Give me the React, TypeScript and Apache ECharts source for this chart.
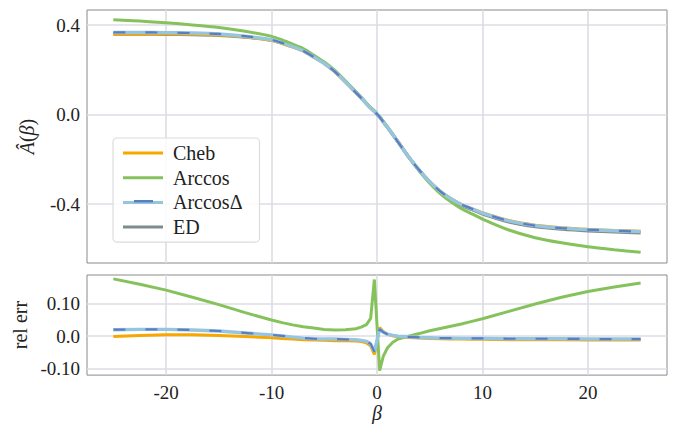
import React, { useEffect, useRef } from "react";
import * as echarts from "echarts";

// beta grid
const BETA = [-25, -22.5, -20, -17.5, -15, -12.5, -10, -9, -8, -7, -6, -5, -4, -3, -2, -1.5, -1, -0.6, -0.25, 0.25, 0.6, 1, 1.5, 2, 3, 4, 5, 6, 7, 8, 9, 10, 12.5, 15, 17.5, 20, 22.5, 25];

// top panel: A-hat(beta)
const ED_TOP = [0.3598, 0.3595, 0.3585, 0.3572, 0.3543, 0.3465, 0.3327, 0.3197, 0.3039, 0.2867, 0.2591, 0.2301, 0.1937, 0.1475, 0.0991, 0.075, 0.0488, 0.0297, 0.0147, -0.0108, -0.0326, -0.0577, -0.0898, -0.123, -0.1894, -0.249, -0.3015, -0.3451, -0.3783, -0.4048, -0.424, -0.4431, -0.4788, -0.5, -0.5111, -0.5187, -0.5237, -0.5278];
const CHEB_TOP = [0.3594, 0.3602, 0.3599, 0.3586, 0.355, 0.3462, 0.331, 0.3175, 0.3012, 0.2835, 0.256, 0.2271, 0.191, 0.1454, 0.0976, 0.0737, 0.0478, 0.0288, 0.0139, -0.0111, -0.0331, -0.058, -0.0899, -0.1228, -0.1886, -0.2475, -0.2994, -0.3423, -0.3749, -0.4012, -0.4198, -0.4387, -0.4735, -0.4945, -0.5055, -0.5125, -0.5174, -0.5215];
const ARCCOS_TOP = [0.4238, 0.4174, 0.4098, 0.4004, 0.389, 0.3718, 0.3493, 0.3331, 0.3145, 0.295, 0.2656, 0.2349, 0.1974, 0.1505, 0.1014, 0.0771, 0.0506, 0.0313, 0.0173, -0.0096, -0.0306, -0.0556, -0.0881, -0.1219, -0.1894, -0.251, -0.3066, -0.3534, -0.39, -0.4202, -0.4435, -0.467, -0.5157, -0.55, -0.5729, -0.5908, -0.6038, -0.6149];
const ARCCOSD_TOP = [0.367, 0.367, 0.366, 0.364, 0.36, 0.35, 0.334, 0.32, 0.303, 0.285, 0.257, 0.228, 0.192, 0.146, 0.098, 0.074, 0.048, 0.029, 0.014, -0.011, -0.033, -0.058, -0.09, -0.123, -0.189, -0.248, -0.3, -0.343, -0.376, -0.402, -0.421, -0.44, -0.475, -0.496, -0.507, -0.514, -0.519, -0.523];

// bottom panel: relative error
const CHEB_ERR = [-0.001, 0.002, 0.004, 0.004, 0.002, -0.001, -0.005, -0.007, -0.009, -0.011, -0.012, -0.013, -0.014, -0.014, -0.015, -0.017, -0.021, -0.03, -0.057, 0.027, 0.014, 0.006, 0.001, -0.002, -0.004, -0.006, -0.007, -0.008, -0.009, -0.009, -0.01, -0.01, -0.011, -0.011, -0.011, -0.012, -0.012, -0.012];
const ARCCOS_ERR = [0.178, 0.161, 0.143, 0.121, 0.098, 0.073, 0.05, 0.042, 0.035, 0.029, 0.025, 0.021, 0.019, 0.02, 0.023, 0.028, 0.036, 0.055, 0.176, -0.107, -0.062, -0.036, -0.019, -0.009, 0.0, 0.008, 0.017, 0.024, 0.031, 0.038, 0.046, 0.054, 0.077, 0.1, 0.121, 0.139, 0.153, 0.165];
const ARCCOSD_ERR = [0.02, 0.021, 0.021, 0.019, 0.016, 0.01, 0.004, 0.001, -0.003, -0.006, -0.008, -0.009, -0.009, -0.01, -0.011, -0.013, -0.016, -0.024, -0.048, 0.022, 0.012, 0.006, 0.002, 0.0, -0.002, -0.004, -0.005, -0.006, -0.006, -0.007, -0.007, -0.007, -0.008, -0.008, -0.008, -0.009, -0.009, -0.009];

const LEGEND_NAMES = ["Cheb", "Arccos", "ArccosΔ", "ED"];

const C_CHEB = "#f6a700";
const C_ARCCOS = "#86c25c";
const C_DL = "#96c5e0";
const C_DD = "#5a7ec3";
const C_ED = "#7f8c8d";
const FONT = "Liberation Serif";
const TXT = "#222";

const pairs = (ys: number[]) => BETA.map((b, i) => [b, ys[i]]);

export default function App() {
  const ref = useRef<HTMLDivElement>(null);
  useEffect(() => {
    if (!ref.current) return;
    const chart = echarts.init(ref.current, undefined, { renderer: "svg" });
    const splitLine = { show: true, showMinLine: false, showMaxLine: false, lineStyle: { color: "#dcdce4", width: 1.6 } };
    const xBase = {
      type: "value",
      min: -27.5,
      max: 27.5,
      minInterval: 10,
      maxInterval: 10,
      axisLine: { show: false },
      axisTick: { show: false },
      splitLine,
    };
    const line = (name: string, x: number, data: number[], color: string, width: number, extra: any = {}) => ({
      type: "line",
      name,
      xAxisIndex: x,
      yAxisIndex: x,
      data: pairs(data),
      showSymbol: false,
      symbol: "none",
      smooth: x === 0 ? 0.25 : false,
      lineStyle: { color, width, ...extra },
      itemStyle: { color },
      z: 2,
    });
    chart.setOption({
      animation: false,
      backgroundColor: "#fff",
      grid: [
        { left: 87, top: 10, width: 580, height: 253, show: true, borderColor: "#8a8a8a", borderWidth: 1, backgroundColor: "#fff" },
        { left: 87, top: 275, width: 580, height: 101, show: true, borderColor: "#8a8a8a", borderWidth: 1, backgroundColor: "#fff" },
      ],
      xAxis: [
        { ...xBase, gridIndex: 0, axisLabel: { show: false } },
        {
          ...xBase,
          gridIndex: 1,
          axisLabel: { show: true, showMinLabel: false, showMaxLabel: false, margin: 8, fontFamily: FONT, fontSize: 19, color: TXT },
          name: "β",
          nameLocation: "middle",
          nameGap: 26,
          nameTextStyle: { fontFamily: FONT, fontSize: 20, fontStyle: "italic", color: TXT },
        },
      ],
      yAxis: [
        {
          type: "value",
          gridIndex: 0,
          min: -0.663,
          max: 0.467,
          minInterval: 0.4,
          maxInterval: 0.4,
          axisLine: { show: false },
          axisTick: { show: false },
          splitLine,
          axisLabel: { showMinLabel: false, showMaxLabel: false, margin: 7, fontFamily: FONT, fontSize: 19, color: TXT, formatter: (v: number) => v.toFixed(1) },
          name: "{i|Â}({i|β})",
          nameLocation: "middle",
          nameGap: 50,
          nameTextStyle: { fontFamily: FONT, fontSize: 20, color: TXT, rich: { i: { fontFamily: FONT, fontSize: 20, fontStyle: "italic", color: TXT } } },
        },
        {
          type: "value",
          gridIndex: 1,
          min: -0.121,
          max: 0.19,
          minInterval: 0.1,
          maxInterval: 0.1,
          axisLine: { show: false },
          axisTick: { show: false },
          splitLine,
          axisLabel: { showMinLabel: false, showMaxLabel: false, margin: 7, fontFamily: FONT, fontSize: 19, color: TXT, formatter: (v: number) => (Math.abs(v) < 1e-9 ? "0.0" : v.toFixed(2)) },
          name: "rel err",
          nameLocation: "middle",
          nameGap: 50,
          nameTextStyle: { fontFamily: FONT, fontSize: 20, color: TXT },
        },
      ],
      legend: {
        data: LEGEND_NAMES,
        orient: "vertical",
        left: 113,
        top: 138,
        padding: [5, 17, 5, 10],
        icon: "rect",
        itemWidth: 40,
        itemHeight: 3,
        itemGap: 4.7,
        selectedMode: false,
        borderColor: "#dcdcdc",
        borderWidth: 1.2,
        borderRadius: 4,
        backgroundColor: "rgba(255,255,255,0.85)",
        textStyle: { fontFamily: FONT, fontSize: 20, lineHeight: 20, color: TXT, padding: [0, 0, 0, 5] },
      },
      graphic: [
        { type: "rect", z: 100, shape: { x: 134, y: 200, width: 19, height: 2.4 }, style: { fill: C_DD } },
      ],
      series: [
        line("ED", 0, ED_TOP, C_ED, 3.4),
        line("Cheb", 0, CHEB_TOP, C_CHEB, 3),
        line("Arccos", 0, ARCCOS_TOP, C_ARCCOS, 3),
        line("ArccosΔ", 0, ARCCOSD_TOP, C_DL, 3.4),
        { ...line("ArccosΔ dash", 0, ARCCOSD_TOP, C_DD, 2.2, { type: [12, 20] }), z: 3 },
        line("Cheb", 1, CHEB_ERR, C_CHEB, 3),
        line("Arccos", 1, ARCCOS_ERR, C_ARCCOS, 3),
        line("ArccosΔ", 1, ARCCOSD_ERR, C_DL, 3.4),
        { ...line("ArccosΔ dash", 1, ARCCOSD_ERR, C_DD, 2.2, { type: [12, 20] }), z: 3 },
      ],
    });
    return () => chart.dispose();
  }, []);
  return <div ref={ref} style={{ position: "absolute", left: 0, top: 0, width: 685, height: 424 }} />;
}
